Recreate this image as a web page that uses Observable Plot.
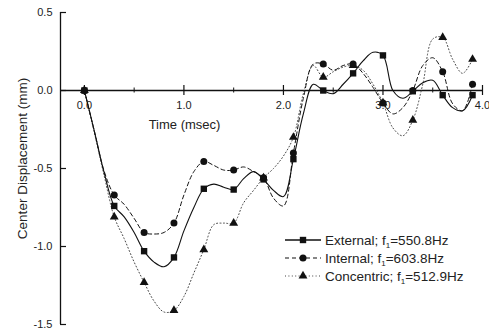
<!DOCTYPE html>
<html><head><meta charset="utf-8">
<script src="https://cdn.jsdelivr.net/npm/d3@7"></script>
<script src="https://cdn.jsdelivr.net/npm/@observablehq/plot@0.6"></script>
<style>body{margin:0;background:#fff} #chart svg{display:block}</style>
</head><body><div id="chart"></div>
<script>
const time = [0.0,0.1,0.2,0.3,0.4,0.5,0.6,0.7,0.8,0.9,1.0,1.1,1.2,1.3,1.4,1.5,1.6,1.7,1.8,1.9,2.0,2.1,2.2,2.3,2.4,2.5,2.6,2.7,2.8,2.9,3.0,3.1,3.2,3.3,3.4,3.5,3.6,3.7,3.8,3.9];
const external = [0,-0.26,-0.53,-0.74,-0.81,-0.91,-1.03,-1.10,-1.13,-1.07,-0.90,-0.75,-0.63,-0.60,-0.62,-0.635,-0.565,-0.52,-0.57,-0.64,-0.68,-0.44,-0.15,0.04,0.0,-0.02,0.04,0.11,0.19,0.245,0.225,0.0,-0.05,-0.005,0.05,0.065,-0.03,-0.11,-0.13,-0.03];
const internal = [0,-0.26,-0.52,-0.67,-0.73,-0.82,-0.91,-0.92,-0.91,-0.85,-0.67,-0.52,-0.455,-0.48,-0.51,-0.51,-0.49,-0.52,-0.56,-0.69,-0.74,-0.40,-0.05,0.17,0.17,0.13,0.16,0.17,0.11,0.02,-0.08,-0.15,-0.11,0.0,0.16,0.21,0.12,-0.085,-0.13,0.04];
const concentric = [0,-0.27,-0.55,-0.81,-0.95,-1.10,-1.23,-1.35,-1.42,-1.41,-1.32,-1.17,-1.02,-0.86,-0.85,-0.85,-0.72,-0.64,-0.56,-0.50,-0.42,-0.30,-0.02,0.16,0.085,0.12,0.15,0.16,0.13,0.04,-0.08,-0.24,-0.29,-0.19,0.04,0.33,0.34,0.20,0.11,0.20];
const seriesNames = ["External","Internal","Concentric"];
const seriesFreqs = ["550.8Hz","603.8Hz","512.9Hz"];
const xTicks = [0,1,2,3,4];
const xMinorTicks = [0.5,1.5,2.5,3.5];
const yTicks = [0.5,0,-0.5,-1.0,-1.5];
const xDomain = [-0.24, 4.0];
const yDomain = [-1.5, 0.5];
const markerStep = 3;

const W = 489, H = 329, mL = 60, mR = 7, mT = 12, mB = 5;
const y0px = mT + (yDomain[1] - 0) / (yDomain[1] - yDomain[0]) * (H - mT - mB);

const styles = [
  {dash: null, symbol: "square", r: 3.6, stroke: "#111", width: 1.1},
  {dash: "4,3", symbol: "circle", r: 3.5, stroke: "#111", width: 1.0},
  {dash: "1,2.4", symbol: "triangle", r: 3.3, stroke: "#444", width: 1.0}
];
const allVals = [external, internal, concentric];
const series = allVals.map((vals, k) => time.map((t, i) => ({t, v: vals[i], i, name: seriesNames[k]})));

const font = "'Liberation Sans', Arial, Helvetica, sans-serif";

const marks = [
  Plot.ruleX([xDomain[0]], {y1: yDomain[0], y2: yDomain[1], stroke: "#111", strokeWidth: 1.3}),
  Plot.tickY(yTicks, {y: d => d, insetRight: W - mL - mR - 6, stroke: "#111", strokeWidth: 1.2}),
  Plot.text(yTicks, {x: xDomain[0], y: d => d, text: d => d.toFixed(1), textAnchor: "end", dx: -8, fontSize: 11, fill: "#222"}),
  Plot.ruleY([0], {x1: xDomain[0], x2: xDomain[1], stroke: "#111", strokeWidth: 1.3}),
  Plot.tickX(xTicks, {x: d => d, insetTop: y0px - 5 - mT, insetBottom: H - mB - (y0px + 5), stroke: "#111", strokeWidth: 1.2}),
  Plot.tickX(xMinorTicks, {x: d => d, insetTop: y0px - 2.5 - mT, insetBottom: H - mB - (y0px + 2.5), stroke: "#111", strokeWidth: 1}),
  Plot.text(xTicks, {x: d => d, y: 0, text: d => d.toFixed(1), dy: 15, fontSize: 11, fill: "#222"}),
  Plot.text(["Time (msec)"], {frameAnchor: "top-left", dx: 124, dy: 107, textAnchor: "middle", fontSize: 13, fill: "#222"}),
  Plot.text(["Center Displacement (mm)"], {frameAnchor: "left", dx: -38, dy: -10, rotate: -90, textAnchor: "middle", fontSize: 13.5, fill: "#222"})
];
[2, 1, 0].forEach(k => {
  const s = styles[k];
  marks.push(Plot.line(series[k], {x: "t", y: "v", curve: "catmull-rom", stroke: s.stroke, strokeWidth: s.width, strokeDasharray: s.dash}));
});
[2, 1, 0].forEach(k => {
  const s = styles[k];
  marks.push(Plot.dot(series[k].filter(d => d.i % markerStep === 0), {x: "t", y: "v", symbol: s.symbol, r: s.r, fill: "#111", stroke: "none"}));
});

const plot = Plot.plot({
  width: W, height: H,
  marginLeft: mL, marginRight: mR, marginTop: mT, marginBottom: mB,
  style: {fontFamily: font, background: "#fff", color: "#111"},
  x: {domain: xDomain, axis: null},
  y: {domain: yDomain, axis: null},
  marks
});

// legend (inside the plot area)
const svg = d3.select(plot);
const lg = svg.append("g").attr("font-family", font).attr("font-size", 13.5).attr("fill", "#222").attr("text-anchor", "start");
const sym = {square: d3.symbolSquare, circle: d3.symbolCircle, triangle: d3.symbolTriangle};
seriesNames.forEach((name, k) => {
  const s = styles[k];
  const yy = 240 + k * 18;
  lg.append("line").attr("x1", 285).attr("x2", 321).attr("y1", yy).attr("y2", yy)
    .attr("stroke", s.stroke).attr("stroke-width", k === 0 ? 1.5 : 1.1).attr("stroke-dasharray", s.dash);
  lg.append("path").attr("transform", `translate(303,${yy})`)
    .attr("d", d3.symbol(sym[s.symbol], Math.PI * s.r * s.r)()).attr("fill", "#111");
  const t = lg.append("text").attr("x", 325).attr("y", yy + 4.5).attr("text-anchor", "start");
  t.append("tspan").text(name + "; f");
  t.append("tspan").attr("font-size", 8).attr("dy", 3).text("1");
  t.append("tspan").attr("dy", -3).text("=" + seriesFreqs[k]);
});

document.getElementById("chart").appendChild(plot);
</script>
</body></html>
